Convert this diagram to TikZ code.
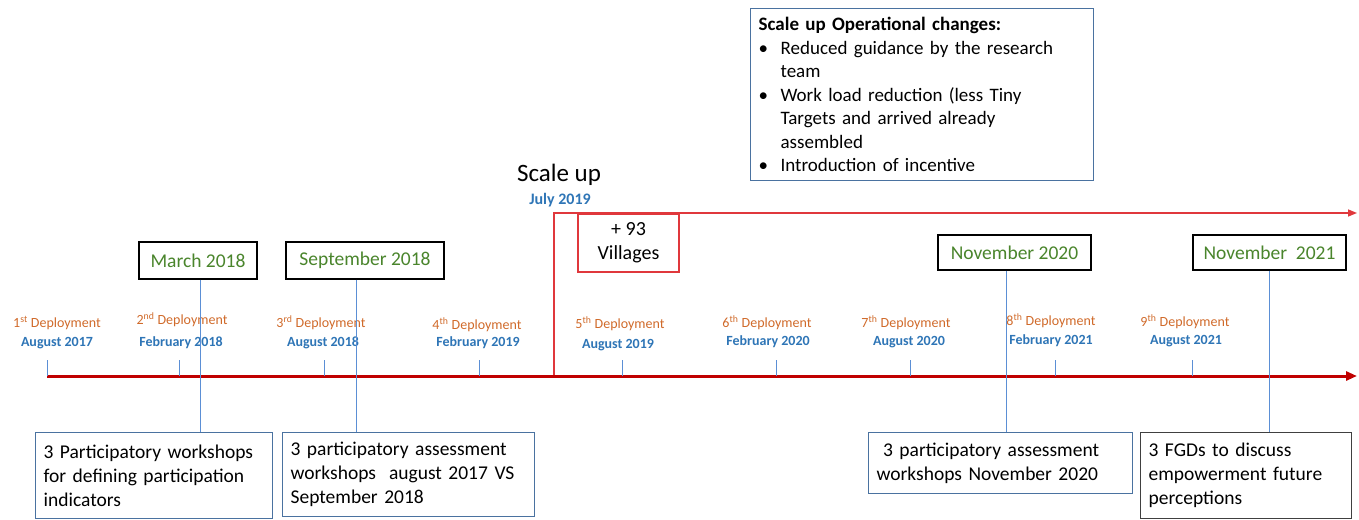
\documentclass[tikz,border=0pt]{standalone}
\usepackage{fontspec}
\setmainfont{Carlito}
\usepackage{xcolor}
\usetikzlibrary{positioning,arrows.meta}
\definecolor{tlred}{HTML}{C00000}
\definecolor{sured}{HTML}{E0383C}
\definecolor{deporange}{HTML}{D06A2A}
\definecolor{depblue}{HTML}{2E75B6}
\definecolor{dategreen}{HTML}{4A852C}
\definecolor{boxblue}{HTML}{4A72A0}
\definecolor{linkblue}{HTML}{5B8FD5}
\newcommand{\opsbullet}{\makebox[22pt][l]{\textbullet}}
\newcommand{\opsindent}{\hspace*{22pt}}
\tikzset{
  mainline/.style={draw=tlred, line width=3pt, -{Triangle[length=11pt,width=9pt]}},
  scaleline/.style={draw=sured, line width=1.5pt, -{Triangle[length=9pt,width=7pt]}},
  tick/.style={draw=linkblue, line width=1pt},
  vlink/.style={draw=linkblue, line width=1pt},
  dep/.style={font=\fontsize{14}{16}\selectfont, text=deporange, inner sep=1pt},
  depdate/.style={font=\fontsize{14}{16}\selectfont\bfseries, text=depblue, inner sep=1pt},
  datebox/.style={draw=black, line width=1.2pt, fill=white, text=dategreen, font=\fontsize{19.5}{22}\selectfont},
  infobox/.style={draw=boxblue, line width=1.2pt, fill=white, font=\fontsize{19.5}{24}\selectfont,
    align=left, anchor=north west, inner xsep=8pt, inner ysep=0pt},
  villbox/.style={draw=sured, line width=1.2pt, fill=white, align=center, font=\fontsize{20}{24}\selectfont}
}
\begin{document}
\begin{tikzpicture}[x=1pt, y=-1pt]
  \useasboundingbox (0,0) rectangle (1359,519);
  \coordinate (tlstart) at (47,376);
  \coordinate (tlend) at (1357,376);
  \coordinate (sustart) at (554,376);
  \coordinate (suend) at (1357,213);
  \draw[scaleline] (sustart) |- (suend);
  \draw[mainline] (tlstart) -- (tlend);

  \node[font=\fontsize{25}{28}\selectfont] (su) at (559,175) {Scale up};
  \node[depdate, font=\fontsize{16}{18}\selectfont\bfseries] (sudate) at (560,200) {July 2019};
  \node[villbox, minimum width=101pt, minimum height=58pt] (vil) at (628.5,243) {+ 93\\Villages};

  \node[infobox, text width=327pt, minimum height=172pt, font=\fontsize{19}{23.5}\selectfont] (ops) at (750,8)
    {\textbf{Scale up Operational changes:}\\
     \opsbullet Reduced guidance by the research\\
     \opsindent team\\
     \opsbullet Work load reduction (less Tiny\\
     \opsindent Targets and arrived already\\
     \opsindent assembled\\
     \opsbullet Introduction of incentive};

  \node[dep] (d1) at (57,323) {1\textsuperscript{st} Deployment};
  \node[depdate] (m1) at (57,343) {August 2017};
  \node[dep] (d2) at (182,320) {2\textsuperscript{nd} Deployment};
  \node[depdate] (m2) at (181,343) {February 2018};
  \node[dep] (d3) at (321,323) {3\textsuperscript{rd} Deployment};
  \node[depdate] (m3) at (323,343) {August 2018};
  \node[dep] (d4) at (477,325) {4\textsuperscript{th} Deployment};
  \node[depdate] (m4) at (478,343) {February 2019};
  \node[dep] (d5) at (620,324) {5\textsuperscript{th} Deployment};
  \node[depdate] (m5) at (618,345) {August 2019};
  \node[dep] (d6) at (767,323) {6\textsuperscript{th} Deployment};
  \node[depdate] (m6) at (768,342) {February 2020};
  \node[dep] (d7) at (906,323) {7\textsuperscript{th} Deployment};
  \node[depdate] (m7) at (909,342) {August 2020};
  \node[dep] (d8) at (1051,321) {8\textsuperscript{th} Deployment};
  \node[depdate] (m8) at (1051,341) {February 2021};
  \node[dep] (d9) at (1185,322) {9\textsuperscript{th} Deployment};
  \node[depdate] (m9) at (1186,341) {August 2021};

  \coordinate (k1) at (47,376);
  \coordinate (k2) at (179,376);
  \coordinate (k3) at (324,376);
  \coordinate (k4) at (479,376);
  \coordinate (k5) at (622,376);
  \coordinate (k6) at (776,376);
  \coordinate (k7) at (910,376);
  \coordinate (k8) at (1055,376);
  \coordinate (k9) at (1192,376);
  \draw[tick] (k1) -- ++(0,-16);
  \draw[tick] (k2) -- ++(0,-16);
  \draw[tick] (k3) -- ++(0,-16);
  \draw[tick] (k4) -- ++(0,-16);
  \draw[tick] (k5) -- ++(0,-16);
  \draw[tick] (k6) -- ++(0,-16);
  \draw[tick] (k7) -- ++(0,-16);
  \draw[tick] (k8) -- ++(0,-16);
  \draw[tick] (k9) -- ++(0,-16);

  \node[datebox, minimum width=118pt, minimum height=37pt] (mar) at (198,260.5) {March 2018};
  \node[datebox, minimum width=158pt, minimum height=37pt] (sep) at (365,260.5) {September 2018};
  \node[datebox, minimum width=153pt, minimum height=35pt] (nov20) at (1014.5,252.5) {November 2020};
  \node[datebox, minimum width=153pt, minimum height=35pt] (nov21) at (1269.5,252.5) {November\ \ 2021};

  \node[infobox, text width=221pt, minimum height=86pt] (wsA) at (35,432)
    {3 Participatory workshops\\for defining participation\\indicators};
  \node[infobox, text width=236pt, minimum height=84pt] (wsB) at (282,432)
    {3 participatory assessment\\workshops\ \ august 2017 VS\\September 2018};
  \node[infobox, text width=248pt, minimum height=61pt] (wsC) at (868,432)
    {\ 3 participatory assessment\\workshops November 2020};
  \node[infobox, draw=black!75, text width=195pt, minimum height=86pt] (wsD) at (1140,432)
    {3 FGDs to discuss\\empowerment future\\perceptions};

  \coordinate (marx) at ([xshift=2pt]mar.south);
  \coordinate (sepx) at ([xshift=-9pt]sep.south);
  \coordinate (nov20x) at ([xshift=-8pt]nov20.south);
  \coordinate (nov21x) at (nov21.south);
  \draw[vlink] (marx) -- (marx |- wsA.north);
  \draw[vlink] (sepx) -- (sepx |- wsB.north);
  \draw[vlink] (nov20x) -- (nov20x |- wsC.north);
  \draw[vlink] (nov21x) -- (nov21x |- wsD.north);
\end{tikzpicture}
\end{document}
